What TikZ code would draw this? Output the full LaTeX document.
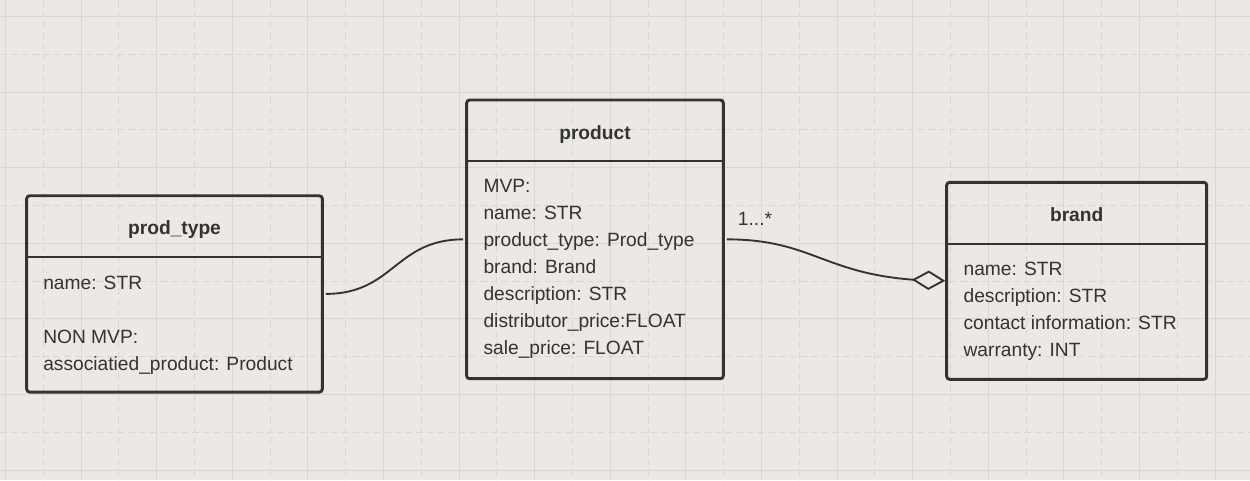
\documentclass[tikz,border=0pt]{standalone}
\usepackage{fontspec}
\setmainfont{Liberation Sans}
\usetikzlibrary{arrows.meta,bending}
\definecolor{bg}{RGB}{235,232,229}
\definecolor{gridc}{RGB}{217,215,213}
\definecolor{ink}{RGB}{51,51,51}
\tikzset{
  gridsolid/.style={draw=gridc, line width=0.75pt},
  griddash/.style={draw=gridc, line width=0.75pt, dash pattern=on 5pt off 3pt},
  classbox/.style={draw=ink, line width=2.2pt, rounded corners=2.2pt, inner sep=0pt},
  sepline/.style={draw=ink, line width=1.5pt},
  title/.style={text=ink, font=\fontsize{14.4}{17}\selectfont\bfseries, anchor=base, inner sep=0pt},
  attr/.style={text=ink, font=\fontsize{14.4}{17}\selectfont, anchor=base west, inner sep=0pt},
  conn/.style={draw=ink, line width=1.4pt},
}
\begin{document}
\begin{tikzpicture}[x=0.75pt, y=-0.75pt]
\useasboundingbox (0,0) rectangle (1250,480);
\fill[bg] (0,0) rectangle (1250,480);
% grid
\foreach \n in {0,...,16} {
  \draw[gridsolid] ({round(5+75.6*\n)+0.5},0) -- ({round(5+75.6*\n)+0.5},480);
  \draw[griddash] ({round(42.8+75.6*\n)+0.5},0) -- ({round(42.8+75.6*\n)+0.5},480);
}
\foreach \n in {0,...,6} {
  \draw[gridsolid] (0,{round(16+75.6*\n)+0.5}) -- (1250,{round(16+75.6*\n)+0.5});
  \draw[griddash] (0,{round(53.8+75.6*\n)+0.5}) -- (1250,{round(53.8+75.6*\n)+0.5});
}
% prod_type
\node[classbox, minimum width=295.6*0.75pt, minimum height=196.3*0.75pt] (ptbox) at (174.5,293.9) {};
\draw[sepline] (26.7,256.7) -- (322.3,256.7);
\node[title] (pttitle) at (174.5,234.3) {prod\_type};
\node[attr] (pt1) at (43,289) {name: STR};
\node[attr] (pt2) at (43,343) {NON MVP:};
\node[attr] (pt3) at (43,370) {associatied\_product: Product};
% product
\node[classbox, minimum width=256.6*0.75pt, minimum height=278.7*0.75pt] (prbox) at (595,239.35) {};
\draw[sepline] (466.7,161) -- (723.3,161);
\node[title] (prtitle) at (595,139.3) {product};
\node[attr] (pr1) at (483.3,192.7) {MVP:};
\node[attr] (pr2) at (483.3,219.7) {name: STR};
\node[attr] (pr3) at (483.3,246.7) {product\_type: Prod\_type};
\node[attr] (pr4) at (483.3,273.7) {brand: Brand};
\node[attr] (pr5) at (483.3,300.7) {description: STR};
\node[attr] (pr6) at (483.3,327.7) {distributor\_price:FLOAT};
\node[attr] (pr7) at (483.3,354.7) {sale\_price: FLOAT};
% brand
\node[classbox, minimum width=260*0.75pt, minimum height=197*0.75pt] (brbox) at (1076.7,280.8) {};
\draw[sepline] (946.7,244) -- (1206.7,244);
\node[title] (brtitle) at (1076.7,221.7) {brand};
\node[attr] (br1) at (963.3,275.7) {name: STR};
\node[attr] (br2) at (963.3,302.7) {description: STR};
\node[attr] (br3) at (963.3,329.7) {contact information: STR};
\node[attr] (br4) at (963.3,356.7) {warranty: INT};
% connectors
\draw[conn, shorten <=1.5pt, shorten >=1.5pt] (ptbox.east) .. controls +(70,0) and +(-70,0) .. (prbox.west);
\draw[conn, shorten <=1.5pt, -{Diamond[open, length=25pt, width=14.5pt, line width=1.4pt, fill=bg]}] (prbox.east) .. controls +(95,0) and +(-120,0) .. (brbox.west);
\node[attr] (mult) at (737.7,225.7) {1...*};
\end{tikzpicture}
\end{document}
